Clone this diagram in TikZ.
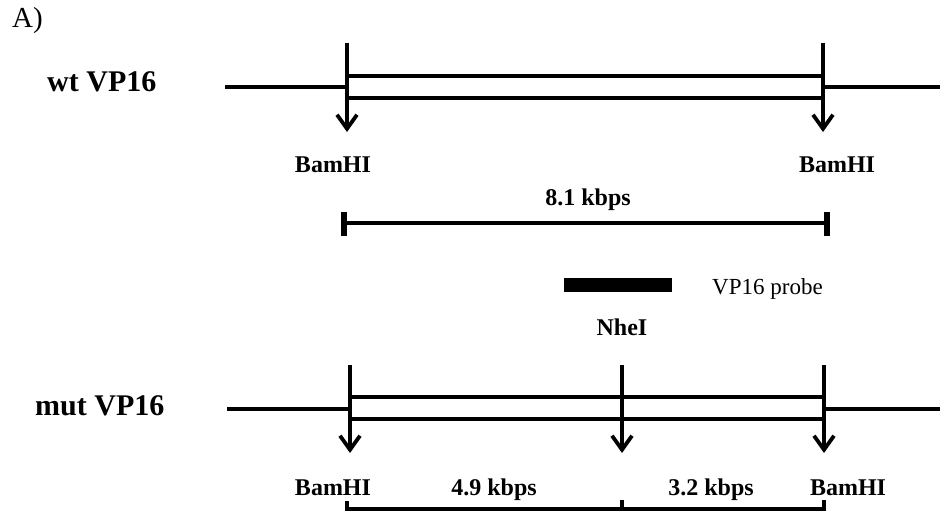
\documentclass[tikz,border=0pt]{standalone}
\usepackage{fontspec}
\setmainfont{Liberation Serif}
\usetikzlibrary{arrows.meta}
\begin{document}
\begin{tikzpicture}[x=1pt,y=-1pt,
  dna/.style={line width=3.5pt},
  cutarrow/.style={line width=3.5pt,-{Straight Barb[length=14pt,width=20pt,line width=3.8pt]}},
  bar/.style={line width=4pt},
  tick/.style={line width=5.5pt},
  sitelabel/.style={font=\fontsize{24}{24}\selectfont\bfseries, inner sep=0pt, anchor=base},
  sizelabel/.style={font=\fontsize{24}{24}\selectfont\bfseries, inner sep=0pt, anchor=base},
  namelabel/.style={font=\fontsize{30}{30}\selectfont\bfseries, inner sep=0pt, anchor=base west},
  plainlabel/.style={font=\fontsize{23}{23}\selectfont, inner sep=0pt, anchor=base west}
]
\useasboundingbox (0,0) rectangle (940,519);
\fill[white] (0,0) rectangle (940,519);

% panel label
\node[plainlabel, font=\fontsize{29}{29}\selectfont] (panelA) at (12,28) {A)};

% ---------- wild type ----------
\node[namelabel] (wtname) at (47,92) {wt VP16};
\coordinate (wtL) at (225,87);
\coordinate (wtR) at (940,87);
\coordinate (wtB1top) at (347,43);
\coordinate (wtB1tip) at (347,132);
\coordinate (wtB2top) at (823,43);
\coordinate (wtB2tip) at (823,132);
\coordinate (wtU1) at (347,76);
\coordinate (wtU2) at (823,76);
\coordinate (wtD1) at (347,98);
\coordinate (wtD2) at (823,98);
\coordinate (wtM1) at (347,87);
\coordinate (wtM2) at (823,87);

\draw[dna] (wtL) -- (wtM1);
\draw[dna] (wtM2) -- (wtR);
\draw[dna] (wtU1) -- (wtU2);
\draw[dna] (wtD1) -- (wtD2);
\draw[cutarrow] (wtB1top) -- (wtB1tip);
\draw[cutarrow] (wtB2top) -- (wtB2tip);

\node[sitelabel] (wtBam1) at (333,172) {BamHI};
\node[sitelabel] (wtBam2) at (837,172) {BamHI};

% 8.1 kbps scale
\node[sizelabel] (wtsize) at (588,205) {8.1 kbps};
\coordinate (s1) at (344,223);
\coordinate (s2) at (827,223);
\draw[bar] (s1) -- (s2);
\draw[tick] (344,212) -- (344,236);
\draw[tick] (827,212) -- (827,236);

% probe
\node[fill=black, inner sep=0pt, minimum width=108pt, minimum height=14pt, anchor=north west] (probe) at (564,278) {};
\node[plainlabel] (probelabel) at (712,294) {VP16 probe};

% ---------- mutant ----------
\node[namelabel] (mutname) at (35,415) {mut VP16};
\node[sitelabel] (nhe) at (622,335) {NheI};
\coordinate (mL) at (227,409);
\coordinate (mR) at (940,409);
\coordinate (mB1top) at (350,365);
\coordinate (mB1tip) at (350,453);
\coordinate (mNtop) at (622,365);
\coordinate (mNtip) at (622,453);
\coordinate (mB2top) at (824,365);
\coordinate (mB2tip) at (824,453);
\coordinate (mU1) at (350,397);
\coordinate (mU2) at (824,397);
\coordinate (mD1) at (350,419);
\coordinate (mD2) at (824,419);
\coordinate (mM1) at (350,409);
\coordinate (mM2) at (824,409);

\draw[dna] (mL) -- (mM1);
\draw[dna] (mM2) -- (mR);
\draw[dna] (mU1) -- (mU2);
\draw[dna] (mD1) -- (mD2);
\draw[cutarrow] (mB1top) -- (mB1tip);
\draw[cutarrow] (mNtop) -- (mNtip);
\draw[cutarrow] (mB2top) -- (mB2tip);

\node[sitelabel] (mBam1) at (333,495) {BamHI};
\node[sitelabel] (mBam2) at (848,495) {BamHI};
\node[sizelabel] (msize1) at (494,495) {4.9 kbps};
\node[sizelabel] (msize2) at (711,495) {3.2 kbps};

\coordinate (b1) at (347,509);
\coordinate (b2) at (622,509);
\coordinate (b3) at (824,509);
\draw[bar] (b1) -- (b3);
\draw[line width=4pt] (347,501) -- (347,511);
\draw[line width=4pt] (622,500) -- (622,511);
\draw[line width=4pt] (824,500) -- (824,511);
\end{tikzpicture}
\end{document}
